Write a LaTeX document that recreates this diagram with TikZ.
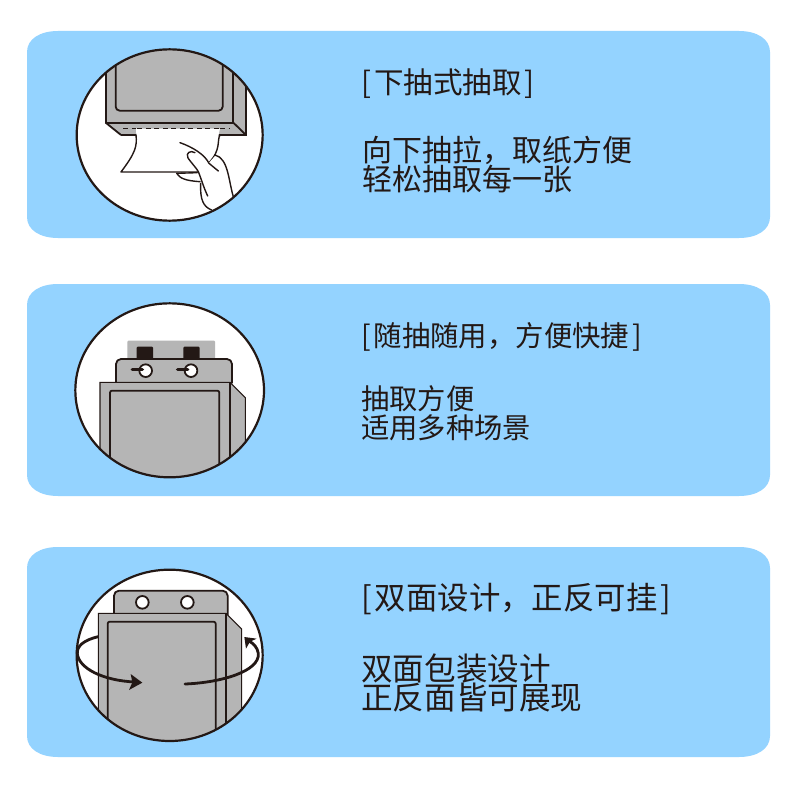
\documentclass[tikz,border=0pt]{standalone}
\usepackage{fontspec}
\setmainfont{Noto Sans CJK SC}
\definecolor{panelblue}{HTML}{94D3FF}
\definecolor{boxgrey}{HTML}{B5B5B5}
\definecolor{inkdark}{HTML}{231815}
\newcommand{\txt}[1]{\fontsize{#1}{#1}\selectfont}
\newcommand{\brk}[1]{[\hspace{3pt}#1\hspace{3pt}]}

\begin{document}
\begin{tikzpicture}
  [
    x=1pt,y=-1pt,
    disc/.style  = {draw = inkdark, line width = 2.2pt},
    ink/.style   = {draw = inkdark, line width = 1.8pt, line join = round},
    fine/.style  = {draw = inkdark, line width = 1.4pt, line join = round, line cap = round},
    thin/.style  = {draw = inkdark, line width = 1.1pt},
    grey/.style  = {fill = boxgrey},
    label/.style = {anchor = west, inner sep = 0pt, text = inkdark},
  ]

\useasboundingbox (0,0) rectangle (800,800);
\fill[white] (0,0) rectangle (800,800);

%Blue panels, the corners are wider than high
\def \xl{27}
\def \xr{770}
\foreach \ya/\yb in {31/238,284/496,547/757}
{
\fill[panelblue] (\xl,\ya+21) .. controls (\xl,\ya+8) and (\xl+13,\ya) .. (\xl+31,\ya)
  -- (\xr-31,\ya) .. controls (\xr-13,\ya) and (\xr,\ya+8) .. (\xr,\ya+21)
  -- (\xr,\yb-21) .. controls (\xr,\yb-8) and (\xr-13,\yb) .. (\xr-31,\yb)
  -- (\xl+31,\yb) .. controls (\xl+13,\yb) and (\xl,\yb-8) .. (\xl,\yb-21) -- cycle;
}

%Drawing 1, coordinates of the scope are those of a 3x crop
\begin{scope}[shift={(60,40)},x=1/3*1pt,y=-1/3*1pt]
\fill[white] (329,285) ellipse [x radius=279,y radius=257];
\begin{scope}
\clip (329,285) ellipse [x radius=279,y radius=257];
\fill[grey] (137,0) -- (558,0) -- (558,285) -- (183,285) -- (137,248) -- cycle;
\draw[ink] (137,0) -- (137,248) -- (520,248) -- (520,0);
\draw[ink] (137,248) -- (183,285);
\draw[ink] (520,248) -- (558,285);
\draw[thin] (183,285) -- (558,285) -- (558,0);
\draw[ink,rounded corners=4pt] (167,0) -- (167,212) -- (488,212) -- (488,0);
\draw[ink,dash pattern=on 5pt off 3.5pt,line width=1.5pt] (190,266) -- (228,266);
\draw[ink,dash pattern=on 5pt off 3.5pt,line width=1.5pt] (480,266) -- (510,266);
%Paper
\fill[white] (228,266) -- (480,266) .. controls (470,300) and (480,320) .. (445,370) -- (395,396) -- (183,396) .. controls (225,340) and (232,320) .. (228,266);
\draw[ink,line width=1.5pt,dash pattern=on 5pt off 3.5pt] (232,266) -- (478,266);
\draw[fine] (228,285) .. controls (232,320) and (225,340) .. (183,396) -- (415,396);
\draw[fine] (480,285) .. controls (470,300) and (485,330) .. (445,370);
%Hand
\fill[white] (360,308) .. controls (400,320) and (430,345) .. (445,370) -- (468,345) .. controls (500,355) and (510,420) .. (520,470) -- (455,510) .. controls (430,500) and (422,460) .. (422,430) -- (375,420) -- (350,400) -- (415,396) -- (385,350) -- cycle;
\draw[fine] (360,308) .. controls (400,322) and (435,345) .. (447,370) -- (475,393);
\draw[fine] (465,345) .. controls (505,355) and (505,420) .. (520,470);
\draw[fine] (405,338) .. controls (392,330) and (376,338) .. (384,354) .. controls (395,370) and (410,385) .. (415,395) .. controls (425,420) and (430,440) .. (443,468);
\draw[fine] (350,400) -- (412,398);
\draw[fine] (350,400) .. controls (360,415) and (375,422) .. (420,425);
\draw[fine] (422,430) .. controls (420,480) and (430,500) .. (455,510);
\end{scope}
\draw[disc] (329,285) ellipse [x radius=279,y radius=257];
\end{scope}

%Drawing 2
\begin{scope}[shift={(60,295)},x=1/3*1pt,y=-1/3*1pt]
\fill[white] (329,286) ellipse [x radius=283,y radius=261];
\begin{scope}
\clip (329,286) ellipse [x radius=283,y radius=261];
\fill[grey,rounded corners=1pt] (202,137) rectangle (465,200);
\foreach \xa in {230,370}
{
\fill[inkdark,rounded corners=1pt] (\xa,155) rectangle +(49,40);
}
\draw[ink,grey,rounded corners=5pt] (168,265) -- (168,192) -- (516,192) -- (516,265);
\foreach \xa in {257,393}
{
\draw[ink,fill=white] (\xa,227) circle [radius=19];
\draw[inkdark,line width=3.6pt,line cap=round] (\xa-40,224) -- (\xa-10,224);
}
\fill[grey] (120,262) -- (510,262) -- (556,308) -- (556,600) -- (120,600) -- cycle;
\draw[thin] (120,600) -- (120,262) -- (510,262) -- (556,308) -- (556,600);
\draw[ink] (510,262) -- (510,600);
\draw[ink,rounded corners=2pt] (150,600) -- (150,287) -- (478,287) -- (478,600);
\end{scope}
\draw[disc] (329,286) ellipse [x radius=283,y radius=261];
\end{scope}

%Drawing 3
\begin{scope}[shift={(60,560)},x=1/3*1pt,y=-1/3*1pt]
\fill[white] (329,286) ellipse [x radius=279,y radius=257];
\begin{scope}
\clip (329,286) ellipse [x radius=279,y radius=257];
\draw[ink,grey,rounded corners=5pt] (162,165) -- (162,92) -- (503,92) -- (503,165);
\foreach \xa in {247,382}
{
\draw[ink,fill=white] (\xa,127) circle [radius=19];
}
\fill[grey] (115,160) -- (498,160) -- (545,207) -- (545,600) -- (115,600) -- cycle;
\draw[thin] (115,600) -- (115,160) -- (498,160) -- (545,207) -- (545,600);
\draw[ink] (498,160) -- (498,600);
\draw[ink,rounded corners=2pt] (143,600) -- (143,185) -- (467,185) -- (467,600);
\end{scope}
%Turning arrows
\draw[inkdark,line width=2.8pt] (115,230) .. controls (70,240) and (50,260) .. (52,280) .. controls (55,325) and (130,362) .. (225,366);
\fill[inkdark] (247,368) -- (207,390) -- (217,367) -- (212,342) -- cycle;
\draw[inkdark,line width=2.8pt,line cap=round] (375,372) .. controls (480,368) and (600,335) .. (595,280) .. controls (592,262) and (580,250) .. (570,245);
\fill[inkdark] (553,231) -- (590,236) -- (570,245) -- (558,266) -- cycle;
\draw[disc] (329,286) ellipse [x radius=279,y radius=257];
\end{scope}

%Texts
\foreach \name/\x/\y/\size/\t in {
  heada/361/84/29.5/{\brk{下抽式抽取}},
  linea/362/150/30/{向下抽拉，取纸方便},
  lineb/362/179/30/{轻松抽取每一张},
  headb/361/337/28.4/{\brk{随抽随用，方便快捷}},
  linec/361/399/28.3/{抽取方便},
  lined/361/428/28.3/{适用多种场景},
  headc/361/599/31.4/{\brk{双面设计，正反可挂}},
  linee/361/668/31.6/{双面包装设计},
  linef/361/698/31.6/{正反面皆可展现}}
{
\node[label] (\name) at (\x,\y) {\txt{\size}\t};
}
\end{tikzpicture}
\end{document}
